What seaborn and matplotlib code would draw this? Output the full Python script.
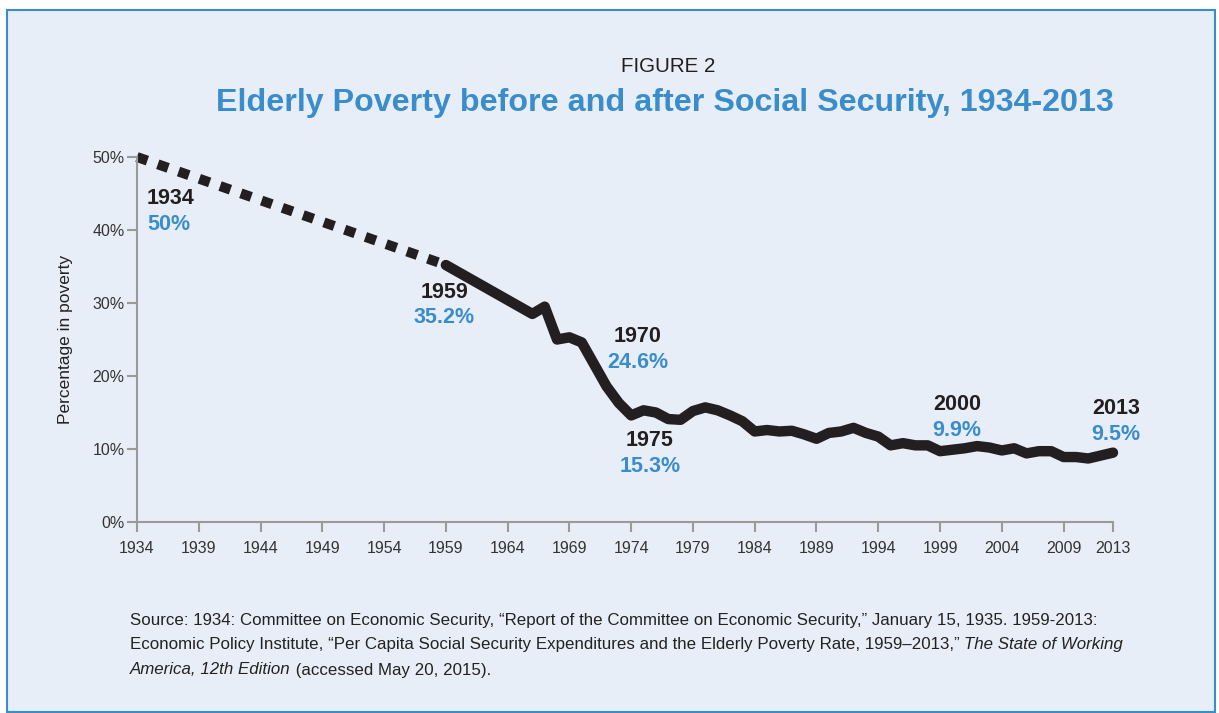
import matplotlib
matplotlib.use("Agg")
import matplotlib.pyplot as plt
import seaborn as sns
import pandas as pd
from matplotlib.patches import Rectangle

# ---- data ----
early_years = [1934, 1959]
early_rates = [50.0, 35.2]

years = [1959, 1966, 1967, 1968, 1969, 1970, 1971, 1972, 1973, 1974, 1975,
         1976, 1977, 1978, 1979, 1980, 1981, 1982, 1983, 1984, 1985, 1986,
         1987, 1988, 1989, 1990, 1991, 1992, 1993, 1994, 1995, 1996, 1997,
         1998, 1999, 2000, 2001, 2002, 2003, 2004, 2005, 2006, 2007, 2008,
         2009, 2010, 2011, 2012, 2013]
rates = [35.2, 28.5, 29.5, 25.0, 25.3, 24.6, 21.6, 18.6, 16.3, 14.6, 15.3,
         15.0, 14.1, 14.0, 15.2, 15.7, 15.3, 14.6, 13.8, 12.4, 12.6, 12.4,
         12.5, 12.0, 11.4, 12.2, 12.4, 12.9, 12.2, 11.7, 10.5, 10.8, 10.5,
         10.5, 9.7, 9.9, 10.1, 10.4, 10.2, 9.8, 10.1, 9.4, 9.7, 9.7,
         8.9, 8.9, 8.7, 9.1, 9.5]

xticks = [1934, 1939, 1944, 1949, 1954, 1959, 1964, 1969, 1974, 1979, 1984,
          1989, 1994, 1999, 2004, 2009, 2013]
yticks = [0, 10, 20, 30, 40, 50]
ytick_labels = ["0%", "10%", "20%", "30%", "40%", "50%"]

callout_years = ["1934", "1959", "1970", "1975", "2000", "2013"]
callout_values = ["50%", "35.2%", "24.6%", "15.3%", "9.9%", "9.5%"]

# ---- style ----
sns.set_theme(style="white")
plt.rcParams['font.family'] = ['Liberation Sans', 'DejaVu Sans']

BG = "#E8EEF7"
BLUE = "#3A8DCB"
INK = "#231F20"
GRAY = "#9A9A9A"

W, H = 1219, 713
fig = plt.figure(figsize=(W / 100, H / 100), dpi=100)
fig.patch.set_facecolor("white")
fig.patches.append(Rectangle((7 / W, 1 - 712 / H), (1215 - 7) / W, (712 - 10) / H,
                             transform=fig.transFigure, facecolor=BG,
                             edgecolor=BLUE, linewidth=1.5, zorder=-10))

ax = fig.add_axes([137 / W, 1 - 522 / H, (1113 - 137) / W, (522 - 157) / H])
ax.set_facecolor("none")

df_early = pd.DataFrame({"year": early_years, "rate": early_rates})
df = pd.DataFrame({"year": years, "rate": rates})

sns.lineplot(data=df_early, x="year", y="rate", ax=ax, color=INK,
             linewidth=7.2, linestyle=(0, (1.1, 1.1)),
             dash_capstyle="butt", clip_on=False)
sns.lineplot(data=df, x="year", y="rate", ax=ax, color=INK,
             linewidth=7.5, solid_capstyle="round", solid_joinstyle="round",
             clip_on=False)

ax.set_xlim(1934, 2013)
ax.set_ylim(0, 50)
ax.set_xticks(xticks)
ax.set_xticklabels([str(t) for t in xticks])
ax.set_yticks(yticks)
ax.set_yticklabels(ytick_labels)
ax.tick_params(axis="both", which="both", length=7, width=1.5, color=GRAY,
               labelsize=11.5, labelcolor="#333333", direction="out",
               bottom=True, left=True)
ax.tick_params(axis="x", pad=7)
ax.tick_params(axis="y", pad=2)
ax.set_xlabel("")
ax.set_ylabel("Percentage in poverty", fontsize=12.5, color="#222222", labelpad=14)
for s in ["top", "right"]:
    ax.spines[s].set_visible(False)
for s in ["left", "bottom"]:
    ax.spines[s].set_color(GRAY)
    ax.spines[s].set_linewidth(1.5)

# ---- callouts (pixel positions) ----
callout_pos = [(147, 198, "left"), (444, 292, "center"), (638, 336, "center"),
               (650, 440, "center"), (957, 404, "center"), (1116, 408, "center")]
for (px, py, ha), yr, val in zip(callout_pos, callout_years, callout_values):
    fig.text(px / W, 1 - py / H, yr, ha=ha, va="center", fontsize=15.5,
             fontweight="bold", color=INK)
    fig.text(px / W, 1 - (py + 26) / H, val, ha=ha, va="center", fontsize=15.5,
             fontweight="bold", color=BLUE)

# ---- titles ----
fig.text(668 / W, 1 - 66 / H, "FIGURE 2", ha="center", va="center",
         fontsize=14.8, color=INK)
fig.text(665 / W, 1 - 103 / H,
         "Elderly Poverty before and after Social Security, 1934-2013",
         ha="center", va="center", fontsize=23.2, fontweight="bold", color=BLUE)

# ---- source note with mixed styles ----
fig.canvas.draw()
renderer = fig.canvas.get_renderer()
lines = [
    [("Source: 1934: Committee on Economic Security, \u201cReport of the Committee on Economic Security,\u201d January 15, 1935. 1959-2013:", "normal")],
    [("Economic Policy Institute, \u201cPer Capita Social Security Expenditures and the Elderly Poverty Rate, 1959\u20132013,\u201d ", "normal"),
     ("The State of Working", "italic")],
    [("America, 12th Edition", "italic"), (" (accessed May 20, 2015).", "normal")],
]
line_y = [620, 645, 670]
for parts, py in zip(lines, line_y):
    x = 130 / W
    for txt, style in parts:
        t = fig.text(x, 1 - py / H, txt, ha="left", va="center", fontsize=12.2,
                     style=style, color="#222222")
        bb = t.get_window_extent(renderer=renderer)
        x = bb.x1 / W

fig.savefig("out.png", dpi=100, facecolor=fig.get_facecolor())
